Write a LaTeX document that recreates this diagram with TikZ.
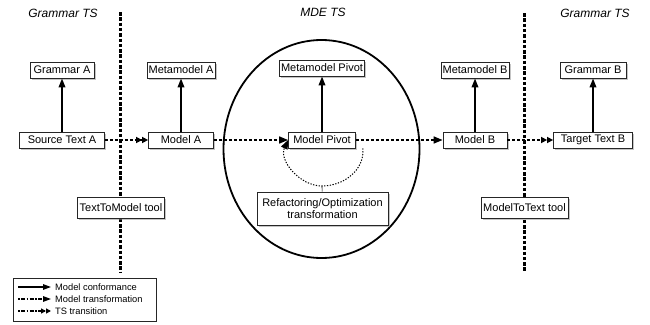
\documentclass[tikz,border=0pt]{standalone}
\usepackage{fontspec}
\setmainfont{Liberation Sans}
\usetikzlibrary{arrows.meta,shadows}

\begin{document}
\begin{tikzpicture}[x=1pt,y=1pt,
    box/.style={draw=black!85, line width=0.8pt, fill=white,
        drop shadow={shadow xshift=1.6pt, shadow yshift=-1.6pt, fill=black!45},
        minimum width=64pt, minimum height=16pt, inner xsep=1.5pt, inner ysep=1pt,
        font=\fontsize{11}{12.5}\selectfont},
    tsname/.style={font=\fontsize{12}{14}\selectfont\itshape},
    separator/.style={line width=3pt, dash pattern=on 3.5pt off 1.8pt},
    conform/.style={line width=1.8pt, -{Triangle[length=9pt,width=6.5pt]}},
    transfo/.style={line width=1.6pt, dash pattern=on 3pt off 2pt,
        -{Triangle[length=9pt,width=7pt]}},
    transit/.style={line width=1.6pt, dash pattern=on 3pt off 2pt,
        -{Triangle[length=6pt,width=6pt]Triangle[length=6pt,width=6pt]}},
    loopline/.style={line width=1pt, dash pattern=on 1.3pt off 1.5pt,
        -{Triangle[length=9pt,width=7pt]}},
    legtext/.style={anchor=west, inner sep=0pt, font=\fontsize{9.3}{10}\selectfont}
]
    \useasboundingbox (0,0) rectangle (650,-324);

    % --- Technical spaces ---
    \node[tsname] (tsL) at (63,-13) {Grammar TS};
    \node[tsname] (tsM) at (323,-12) {MDE TS};
    \node[tsname] (tsR) at (595,-13) {Grammar TS};

    % Borders between the spaces
    \coordinate (sepLtop) at (120,-12);
    \coordinate (sepLbot) at (120,-272);
    \coordinate (sepRtop) at (524,-13);
    \coordinate (sepRbot) at (524,-272);
    \draw[separator] (sepLtop) -- (sepLbot);
    \draw[separator] (sepRtop) -- (sepRbot);

    % MDE space boundary
    \coordinate (mdeC) at (321.5,-149);
    \draw[line width=1.8pt] (mdeC) ellipse (98pt and 109pt);

    % --- Boxes ---
    \node[box] (gramA) at (62,-70) {Grammar A};
    \node[box, minimum width=66pt] (metaA) at (181,-70) {Metamodel A};
    \node[box, minimum width=84pt] (metaP) at (322,-68) {Metamodel Pivot};
    \node[box] (metaB) at (475,-70) {Metamodel B};
    \node[box, minimum width=66pt] (gramB) at (593,-70) {Grammar B};

    \node[box, minimum width=85pt] (srcA) at (62,-140) {Source Text A};
    \node[box, minimum width=65pt] (modelA) at (181,-140) {Model A};
    \node[box, minimum width=67pt] (modelP) at (322,-140) {Model Pivot};
    \node[box] (modelB) at (475,-140) {Model B};
    \node[box, minimum width=79pt] (tgtB) at (593,-140) {Target Text B};

    % Tools
    \node[box, minimum width=87pt, minimum height=21pt] (t2m) at (121,-207.5) {TextToModel tool};
    \node[box, minimum width=87pt, minimum height=21pt] (m2t) at (524.5,-208) {ModelToText tool};
    \node[box, minimum width=131pt, minimum height=33pt, align=center] (refac) at (322.5,-208.5)
        {Refactoring/Optimization\\transformation};

    % --- Conformance ---
    \draw[conform] (srcA) -- (gramA);
    \draw[conform] (modelA) -- (metaA);
    \draw[conform] (modelP) -- (metaP);
    \draw[conform] (modelB) -- (metaB);
    \draw[conform] (tgtB) -- (gramB);

    % --- Transformations and transitions ---
    \draw[transit] (srcA) -- (modelA);
    \draw[transfo] (modelA) -- (modelP);
    \draw[transfo] (modelP) -- (modelB);
    \draw[transit] (modelB) -- (tgtB);

    % Refactoring loop on the pivot model
    \coordinate (loopB) at (322,-186);
    \draw[loopline] ([xshift=7pt]modelP.south east) to[out=-85,in=0] (loopB)
        to[out=180,in=-115] (modelP.west);
    \draw[line width=0.6pt] (refac) -- (loopB);

    % --- Legend ---
    \node[draw=black!85, line width=0.8pt, minimum width=143pt, minimum height=43pt,
        anchor=north west, inner sep=0pt] (legend) at (13,-278) {};
    \node[legtext] (legConf) at (55,-287) {Model conformance};
    \node[legtext] (legTrans) at (55,-299) {Model transformation};
    \node[legtext] (legTS) at (55,-311) {TS transition};
    \coordinate (legConfS) at (18,-287);
    \coordinate (legTransS) at (18,-299);
    \coordinate (legTSS) at (18,-311);
    \draw[line width=1.3pt, -{Triangle[length=8pt,width=5.5pt]}]
        (legConfS) -- ([xshift=-4pt]legConf.west);
    \draw[line width=1.3pt, dash pattern=on 1.5pt off 1.5pt on 4pt off 1.5pt,
        -{Triangle[length=8pt,width=5.5pt]}] (legTransS) -- ([xshift=-4pt]legTrans.west);
    \draw[line width=1.3pt, dash pattern=on 1.5pt off 1.5pt on 4pt off 1.5pt,
        -{Triangle[length=5pt,width=5pt]Triangle[length=5pt,width=5pt]}]
        (legTSS) -- ([xshift=-4pt]legTS.west);

\end{tikzpicture}
\end{document}
